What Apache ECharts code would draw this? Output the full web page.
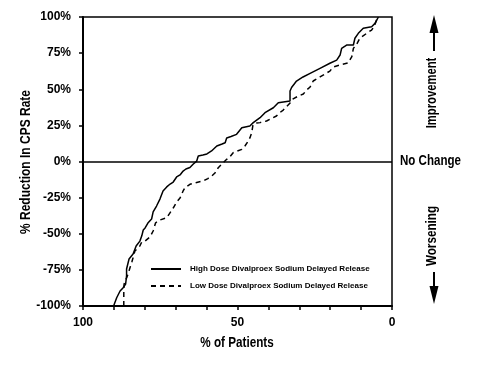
<!DOCTYPE html>
<html>
<head>
<meta charset="utf-8">
<script src="https://cdn.jsdelivr.net/npm/echarts@6/dist/echarts.min.js"></script>
<style>
html,body{margin:0;padding:0;background:#fff;}
#chart{width:477px;height:371px;}
</style>
</head>
<body>
<div id="chart"></div>
<script>
var seriesNames = ['High Dose Divalproex Sodium Delayed Release', 'Low Dose Divalproex Sodium Delayed Release'];
var yTicks = [-100, -75, -50, -25, 0, 25, 50, 75, 100];
var xLabels = [100, 50, 0];
var xTitle = '% of Patients';
var yTitle = '% Reduction In CPS Rate';

// [% of patients, % reduction in CPS rate]
var highDose = [
  [90.1,-100],[89.1,-94.3],[88.0,-89.6],[87.0,-87.3],[86.2,-84.8],[85.9,-79.2],[85.9,-74.4],
  [85.1,-67.5],[83.8,-64.0],[82.8,-58.5],[81.6,-55.1],[81.0,-51.6],[80.5,-47.4],[79.9,-46.0],
  [79.0,-42.6],[77.8,-39.8],[77.3,-34.9],[76.2,-30.8],[75.1,-26.0],[74.1,-20.4],[72.9,-17.6],
  [71.8,-15.6],[70.8,-14.2],[69.7,-10.7],[68.6,-9.3],[67.6,-6.6],[66.7,-5.2],[65.4,-4.2],
  [64.3,-1.7],[63.2,0.3],[62.7,3.8],[61.2,4.5],[59.9,5.2],[58.4,7.3],[56.7,10.7],[55.0,12.1],
  [54.0,13.0],[53.5,16.3],[52.1,17.3],[50.3,18.8],[48.6,23.4],[46.0,24.6],[44.9,26.9],
  [42.7,30.3],[41.1,33.8],[38.4,37.2],[36.8,40.7],[36.3,41.9],[33.0,41.9],[33.0,48.8],
  [32.5,51.2],[30.9,55.7],[28.8,58.5],[26.5,61.0],[23.3,64.5],[20.1,68.0],[17.9,70.2],
  [16.8,73.7],[16.3,78.3],[14.7,80.6],[12.5,80.6],[12.0,85.3],[10.9,88.7],[9.3,92.2],
  [6.6,93.3],[5.5,95.6],[4.4,100]
];
var lowDose = [
  [86.8,-100],[86.8,-89.6],[86.7,-84.8],[85.9,-80.6],[85.3,-77.2],[84.8,-73.5],[84.2,-69.6],
  [83.8,-66.6],[83.2,-61.9],[81.6,-58.5],[81.0,-55.7],[79.9,-55.0],[78.3,-52.2],[77.3,-48.1],
  [76.5,-42.4],[75.1,-40.5],[72.9,-38.9],[71.8,-35.4],[70.8,-32.2],[69.7,-28.0],[68.6,-25.3],
  [67.6,-20.4],[67.0,-18.1],[65.4,-15.8],[63.2,-14.5],[61.1,-13.5],[59.6,-11.8],[58.3,-10.0],
  [57.3,-8.0],[56.3,-4.5],[55.7,-4.3],[54.6,-0.8],[53.5,1.5],[52.4,3.5],[51.4,6.1],[48.6,8.4],
  [47.6,10.7],[46.5,14.2],[46.0,16.3],[45.4,19.9],[45.0,25.3],[43.8,26.6],[42.7,26.9],
  [40.6,28.0],[39.5,29.2],[37.4,31.5],[36.3,33.8],[35.2,35.6],[33.0,40.5],[32.0,43.3],
  [30.3,45.3],[28.7,46.7],[27.6,49.5],[26.5,51.6],[25.5,55.7],[23.3,58.5],[20.1,62.6],
  [19.0,65.4],[16.8,66.8],[14.2,68.2],[13.6,68.9],[13.0,72.5],[12.5,78.3],[11.4,81.3],
  [10.4,85.3],[8.2,88.7],[6.6,91.0],[5.8,93.3],[5.0,97.9],[4.5,100]
];

var FF = "'Liberation Sans',Arial,sans-serif";
var TF = 'bold 15px ' + FF;
var chart = echarts.init(document.getElementById('chart'), null, {renderer: 'canvas'});
chart.setOption({
  animation: false,
  backgroundColor: '#fff',
  grid: {left: 83, right: 85, top: 17, bottom: 65, show: true, borderColor: '#000', borderWidth: 1.5,
    containLabel: false, outerBoundsMode: 'none'},
  legend: {
    orient: 'vertical', left: 150, top: 265, itemWidth: 30, itemHeight: 8, itemGap: 9, padding: 0,
    data: seriesNames,
    itemStyle: {opacity: 0, borderWidth: 0},
    textStyle: {fontFamily: FF, fontWeight: 'bold', fontSize: 8, color: '#000', padding: [0, 0, 0, 4]}
  },
  xAxis: {
    type: 'value', inverse: true, min: 0, max: 100, interval: 10,
    axisLine: {onZero: false, lineStyle: {color: '#000', width: 2}},
    axisTick: {show: true, inside: false, length: 4, lineStyle: {color: '#000', width: 1.5}},
    axisLabel: {color: '#000', fontFamily: FF, fontWeight: 'bold', fontSize: 12, margin: 11,
      formatter: function (v) { return xLabels.indexOf(v) >= 0 ? String(v) : ''; }},
    splitLine: {show: false}
  },
  yAxis: {
    type: 'value', min: yTicks[0], max: yTicks[yTicks.length - 1], interval: 25,
    axisLine: {onZero: false, lineStyle: {color: '#000', width: 2}},
    axisTick: {show: true, inside: false, length: 4, lineStyle: {color: '#000', width: 1.5}},
    axisLabel: {color: '#000', fontFamily: FF, fontWeight: 'bold', fontSize: 12, margin: 12,
      formatter: '{value}%'},
    splitLine: {show: false}
  },
  series: [
    {
      name: seriesNames[0], type: 'line', data: highDose, showSymbol: false, symbol: 'none',
      lineStyle: {color: '#000', width: 1.5, type: 'solid'}, itemStyle: {color: '#000'},
      markLine: {silent: true, symbol: 'none', label: {show: false},
        lineStyle: {color: '#000', width: 1.5, type: 'solid'}, data: [{yAxis: 0}]}
    },
    {
      name: seriesNames[1], type: 'line', data: lowDose, showSymbol: false, symbol: 'none',
      lineStyle: {color: '#000', width: 1.5, type: [5, 4]}, itemStyle: {color: '#000'}
    }
  ],
  graphic: [
    {type: 'text', x: 237, y: 343, scaleX: 0.78, style: {text: xTitle, font: TF, fill: '#000', verticalAlign: 'middle', align: 'center'}},
    {type: 'text', x: 26, y: 162, rotation: Math.PI / 2, scaleX: 0.8, style: {text: yTitle, font: TF, fill: '#000', verticalAlign: 'middle', align: 'center'}},
    {type: 'text', x: 400, y: 161, scaleX: 0.77, style: {text: 'No Change', font: TF, fill: '#000', verticalAlign: 'middle', align: 'left'}},
    {type: 'text', x: 432, y: 93, rotation: Math.PI / 2, scaleX: 0.75, style: {text: 'Improvement', font: TF, fill: '#000', verticalAlign: 'middle', align: 'center'}},
    {type: 'line', shape: {x1: 434, y1: 51, x2: 434, y2: 30}, style: {stroke: '#000', lineWidth: 2}},
    {type: 'polygon', shape: {points: [[429.5, 33], [438.5, 33], [434, 15]]}, style: {fill: '#000'}},
    {type: 'text', x: 432, y: 236, rotation: Math.PI / 2, scaleX: 0.78, style: {text: 'Worsening', font: TF, fill: '#000', verticalAlign: 'middle', align: 'center'}},
    {type: 'line', shape: {x1: 434, y1: 272, x2: 434, y2: 290}, style: {stroke: '#000', lineWidth: 2}},
    {type: 'polygon', shape: {points: [[429.5, 286], [438.5, 286], [434, 304]]}, style: {fill: '#000'}}
  ]
});
</script>
</body>
</html>
